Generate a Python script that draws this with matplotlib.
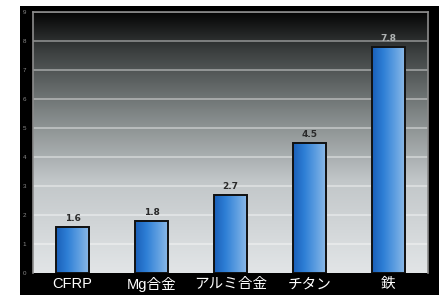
import numpy as np
import matplotlib.pyplot as plt
from matplotlib.patches import Rectangle
from matplotlib.colors import LinearSegmentedColormap

plt.rcParams['font.family'] = ['Liberation Sans', 'Noto Sans CJK JP', 'DejaVu Sans']

# data
materials = ["CFRP", "Mg合金", "アルミ合金", "チタン", "鉄"]
values = [1.6, 1.8, 2.7, 4.5, 7.8]
value_labels = ["1.6", "1.8", "2.7", "4.5", "7.8"]
yticks = list(range(0, 10))

W, H = 446, 295
fig = plt.figure(figsize=(W / 100, H / 100), dpi=100)
fig.patch.set_facecolor("white")

# black frame behind everything
fig.patches.append(Rectangle((20 / W, 0), (439 - 20) / W, (295 - 6) / H,
                             transform=fig.transFigure, facecolor="black",
                             edgecolor="none", zorder=-10))

ax = fig.add_axes([33 / W, (H - 273) / H, 395 / W, 261 / H])
ax.set_zorder(1)

# background gradient (dark top -> light bottom)
bg = LinearSegmentedColormap.from_list(
    "bg", [(0.0, "#e2e5e7"), (0.35, "#c2c7c9"), (0.6, "#838989"),
           (0.85, "#3c4040"), (1.0, "#050505")])
grad = np.linspace(0, 1, 256).reshape(-1, 1)
ax.imshow(grad, cmap=bg, aspect="auto", origin="lower",
          extent=(-0.5, len(materials) - 0.5, 0, 9), zorder=0)

for y in yticks[1:]:
    ax.axhline(y, color="white", alpha=0.45, lw=1.2, zorder=1)

bars = ax.bar(range(len(materials)), values, width=0.43,
              color="#2f7fd0", edgecolor="#111111", linewidth=1.4, zorder=3)

# horizontal blue gradient on each bar
barcm = LinearSegmentedColormap.from_list(
    "bar", ["#1a5fb8", "#2e7fd6", "#5c9de0", "#8fbbe8"])
hgrad = np.linspace(0, 1, 128).reshape(1, -1)
for b in bars:
    x0, w, h = b.get_x(), b.get_width(), b.get_height()
    ax.imshow(hgrad, cmap=barcm, aspect="auto",
              extent=(x0, x0 + w, 0, h), zorder=2.5)
    b.set_facecolor("none")

ax.set_xlim(-0.5, len(materials) - 0.5)
ax.set_ylim(0, 9)

for b, lab in zip(bars, value_labels):
    h = b.get_height()
    ax.text(b.get_x() + b.get_width() / 2, h + 0.12, lab,
            ha="center", va="bottom", fontsize=6.5, fontweight="bold",
            family="DejaVu Sans",
            color="#b0b4b4" if h > 7 else "#2a2a2a", zorder=4)

ax.set_yticks(yticks)
ax.set_yticklabels([str(t) for t in yticks], fontsize=4.5, color="#8a8a8a")
ax.tick_params(axis="y", length=0, pad=5)
ax.set_xticks(range(len(materials)))
ax.set_xticklabels(materials, fontsize=10.5, color="white")
ax.tick_params(axis="x", length=0, pad=3)

for s in ax.spines.values():
    s.set_color("#8c8c8c")
    s.set_linewidth(1.2)
ax.spines["bottom"].set_visible(False)

fig.savefig("out.png", dpi=100, facecolor=fig.get_facecolor())
